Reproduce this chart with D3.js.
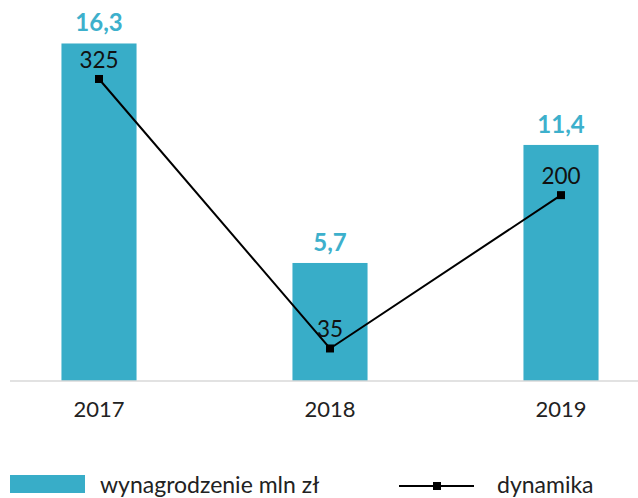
<!DOCTYPE html>
<html>
<head>
<meta charset="utf-8">
<script src="https://cdn.jsdelivr.net/npm/d3@7"></script>
<style>
  body { margin: 0; background: #fff; }
  svg { font-family: Lato, "Open Sans", sans-serif; }
</style>
</head>
<body>
<svg id="chart" width="638" height="498"></svg>
<script>
const years = ['2017', '2018', '2019'];
const salary = [16.3, 5.7, 11.4];
const salaryLabels = ['16,3', '5,7', '11,4'];
const dynamics = [325, 35, 200];
const legendLabels = ['wynagrodzenie mln zł', 'dynamika'];

const svg = d3.select('#chart');
const baseY = 381;

const x = d3.scaleBand()
  .domain(years)
  .range([-16.5, 676.5])
  .paddingInner(0.675)
  .paddingOuter(0.3375);

const y = d3.scaleLinear().domain([0, 18.4]).range([baseY, 0]);
const y2 = d3.scaleLinear().domain([0, 410]).range([baseY, 0]);

const barColor = '#38adc8';

// bars
svg.selectAll('.bar')
  .data(years)
  .enter().append('rect')
  .attr('class', 'bar')
  .attr('x', d => x(d))
  .attr('y', (d, i) => y(salary[i]))
  .attr('width', x.bandwidth())
  .attr('height', (d, i) => baseY - y(salary[i]))
  .attr('fill', barColor);

// bar labels
svg.selectAll('.bar-label')
  .data(years)
  .enter().append('text')
  .attr('x', d => x(d) + x.bandwidth() / 2)
  .attr('y', (d, i) => y(salary[i]) - 12)
  .attr('text-anchor', 'middle')
  .attr('font-size', 24)
  .attr('font-weight', 'bold')
  .attr('fill', '#3db0cc')
  .text((d, i) => salaryLabels[i]);

// axis
const axis = svg.append('g')
  .attr('transform', 'translate(0,' + baseY + ')')
  .call(d3.axisBottom(x).tickSize(0).tickPadding(20));
axis.select('.domain').remove();
axis.append('line')
  .attr('x1', 10).attr('x2', 638)
  .attr('stroke', '#d9d9d9').attr('stroke-width', 1.5);
axis.selectAll('.tick text')
  .attr('dy', null)
  .attr('y', 36)
  .attr('font-size', 22)
  .attr('fill', '#222')
  .attr('font-family', 'Lato, sans-serif');

// line
const cx = (d, i) => x(years[i]) + x.bandwidth() / 2;
const line = d3.line().x(cx).y(d => y2(d));
svg.append('path')
  .datum(dynamics)
  .attr('d', line)
  .attr('fill', 'none')
  .attr('stroke', '#000')
  .attr('stroke-width', 2);

svg.selectAll('.marker')
  .data(dynamics)
  .enter().append('rect')
  .attr('x', (d, i) => cx(d, i) - 4)
  .attr('y', d => y2(d) - 4)
  .attr('width', 8).attr('height', 8)
  .attr('fill', '#000');

svg.selectAll('.line-label')
  .data(dynamics)
  .enter().append('text')
  .attr('x', cx)
  .attr('y', d => y2(d) - 11)
  .attr('text-anchor', 'middle')
  .attr('font-size', 22.5)
  .attr('fill', '#111')
  .text(d => d);

// legend
const leg = svg.append('g');
leg.append('rect')
  .attr('x', 10).attr('y', 475).attr('width', 75).attr('height', 18)
  .attr('fill', barColor);
leg.append('text')
  .attr('x', 100).attr('y', 493)
  .attr('font-size', 23).attr('fill', '#222')
  .text(legendLabels[0]);
leg.append('line')
  .attr('x1', 399).attr('x2', 474).attr('y1', 486).attr('y2', 486)
  .attr('stroke', '#000').attr('stroke-width', 2);
leg.append('rect')
  .attr('x', 433).attr('y', 482).attr('width', 8).attr('height', 8)
  .attr('fill', '#000');
leg.append('text')
  .attr('x', 497).attr('y', 493)
  .attr('font-size', 23).attr('fill', '#222')
  .text(legendLabels[1]);
</script>
</body>
</html>
